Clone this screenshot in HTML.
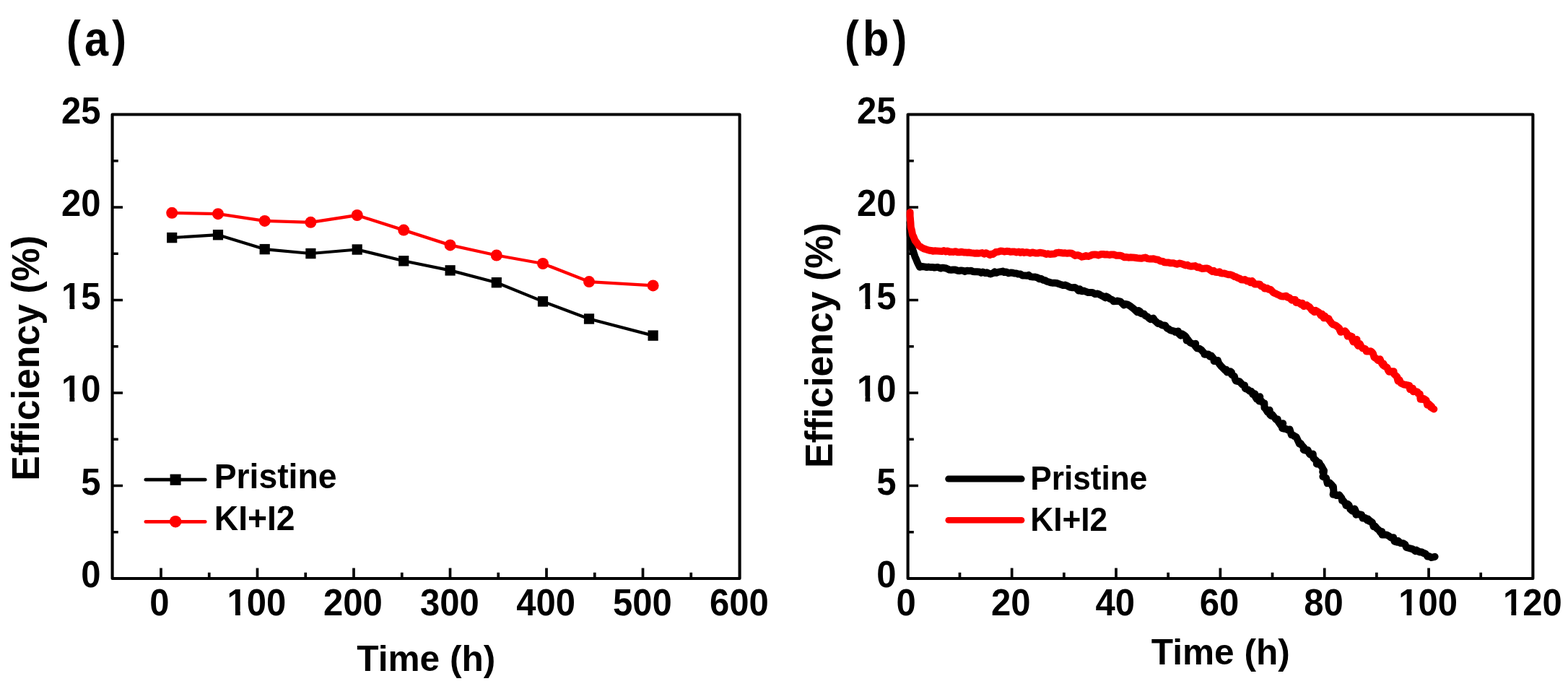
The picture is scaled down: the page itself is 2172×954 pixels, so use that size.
<!DOCTYPE html><html><head><meta charset="utf-8"><title>Efficiency vs time</title><style>html,body{margin:0;padding:0;background:#fff;width:2172px;height:954px;overflow:hidden}svg{display:block}text{font-family:"Liberation Sans", Arial, sans-serif;font-weight:bold;fill:#000}</style></head><body>
<svg width="2172" height="954" viewBox="0 0 2172 954">
<defs><clipPath id="c1" clipPathUnits="userSpaceOnUse"><path clip-rule="evenodd" d="M309.62 803.40H401.38V867.10H309.62ZM315.58 845.22H326.01V853.84H315.58ZM332.83 845.22H342.86V853.84H332.83Z"/></clipPath><clipPath id="c2" clipPathUnits="userSpaceOnUse"><path clip-rule="evenodd" d="M80.11 507.30H144.61V571.00H80.11ZM86.06 549.12H96.49V557.74H86.06ZM103.31 549.12H113.34V557.74H103.31Z"/></clipPath><clipPath id="c3" clipPathUnits="userSpaceOnUse"><path clip-rule="evenodd" d="M80.11 378.80H144.61V442.50H80.11ZM86.06 420.62H96.49V429.24H86.06ZM103.31 420.62H113.34V429.24H103.31Z"/></clipPath><clipPath id="c4" clipPathUnits="userSpaceOnUse"><path clip-rule="evenodd" d="M1932.17 803.40H2023.93V867.10H1932.17ZM1938.13 845.22H1948.56V853.84H1938.13ZM1955.38 845.22H1965.41V853.84H1955.38Z"/></clipPath><clipPath id="c5" clipPathUnits="userSpaceOnUse"><path clip-rule="evenodd" d="M2077.02 803.40H2168.78V867.10H2077.02ZM2082.98 845.22H2093.41V853.84H2082.98ZM2100.23 845.22H2110.26V853.84H2100.23Z"/></clipPath><clipPath id="c6" clipPathUnits="userSpaceOnUse"><path clip-rule="evenodd" d="M1182.11 507.30H1246.61V571.00H1182.11ZM1188.06 549.12H1198.49V557.74H1188.06ZM1205.31 549.12H1215.34V557.74H1205.31Z"/></clipPath><clipPath id="c7" clipPathUnits="userSpaceOnUse"><path clip-rule="evenodd" d="M1182.11 378.80H1246.61V442.50H1182.11ZM1188.06 420.62H1198.49V429.24H1188.06ZM1205.31 420.62H1215.34V429.24H1205.31Z"/></clipPath></defs>
<rect x="0" y="0" width="2172" height="954" fill="#fff"/>
<path d="M223.00 801.00V786.60M356.50 801.00V786.60M490.00 801.00V786.60M623.50 801.00V786.60M757.00 801.00V786.60M890.50 801.00V786.60M289.75 801.00V792.80M423.25 801.00V792.80M556.75 801.00V792.80M690.25 801.00V792.80M823.75 801.00V792.80M957.25 801.00V792.80M155.60 672.50H170.00M155.60 544.00H170.00M155.60 415.50H170.00M155.60 287.00H170.00M155.60 736.75H163.80M155.60 608.25H163.80M155.60 479.75H163.80M155.60 351.25H163.80M155.60 222.75H163.80" stroke="#000" stroke-width="3.70" fill="none"/>
<rect x="155.60" y="158.50" width="869.00" height="642.50" fill="none" stroke="#000" stroke-width="4.10" stroke-linejoin="round"/>
<g transform="translate(0 852.40) scale(1 1.070) translate(0 -852.40)"><text x="207.17" y="852.40" font-size="49">0</text></g>
<g transform="translate(0 852.40) scale(1 1.070) translate(0 -852.40)"><text x="314.62" y="852.40" font-size="49" clip-path="url(#c1)">100</text></g>
<g transform="translate(0 852.40) scale(1 1.070) translate(0 -852.40)"><text x="447.92" y="852.40" font-size="49">200</text></g>
<g transform="translate(0 852.40) scale(1 1.070) translate(0 -852.40)"><text x="582.02" y="852.40" font-size="49">300</text></g>
<g transform="translate(0 852.40) scale(1 1.070) translate(0 -852.40)"><text x="715.32" y="852.40" font-size="49">400</text></g>
<g transform="translate(0 852.40) scale(1 1.070) translate(0 -852.40)"><text x="849.02" y="852.40" font-size="49">500</text></g>
<g transform="translate(0 852.40) scale(1 1.070) translate(0 -852.40)"><text x="983.12" y="852.40" font-size="49">600</text></g>
<g transform="translate(0 813.30) scale(1 1.070) translate(0 -813.30)"><text x="112.36" y="813.30" font-size="49">0</text></g>
<g transform="translate(0 684.80) scale(1 1.070) translate(0 -684.80)"><text x="112.36" y="684.80" font-size="49">5</text></g>
<g transform="translate(0 556.30) scale(1 1.070) translate(0 -556.30)"><text x="85.11" y="556.30" font-size="49" clip-path="url(#c2)">10</text></g>
<g transform="translate(0 427.80) scale(1 1.070) translate(0 -427.80)"><text x="85.11" y="427.80" font-size="49" clip-path="url(#c3)">15</text></g>
<g transform="translate(0 299.30) scale(1 1.070) translate(0 -299.30)"><text x="85.11" y="299.30" font-size="49">20</text></g>
<g transform="translate(0 170.80) scale(1 1.070) translate(0 -170.80)"><text x="85.11" y="170.80" font-size="49">25</text></g>
<path d="M1401.65 801.00V786.60M1546.00 801.00V786.60M1690.35 801.00V786.60M1834.70 801.00V786.60M1979.05 801.00V786.60M1329.47 801.00V792.80M1473.83 801.00V792.80M1618.17 801.00V792.80M1762.53 801.00V792.80M1906.88 801.00V792.80M2051.22 801.00V792.80M1257.60 672.50H1272.00M1257.60 544.00H1272.00M1257.60 415.50H1272.00M1257.60 287.00H1272.00M1257.60 736.75H1265.80M1257.60 608.25H1265.80M1257.60 479.75H1265.80M1257.60 351.25H1265.80M1257.60 222.75H1265.80" stroke="#000" stroke-width="3.70" fill="none"/>
<rect x="1257.60" y="158.50" width="865.80" height="642.50" fill="none" stroke="#000" stroke-width="4.10" stroke-linejoin="round"/>
<g transform="translate(0 852.40) scale(1 1.070) translate(0 -852.40)"><text x="1241.47" y="852.40" font-size="49">0</text></g>
<g transform="translate(0 852.40) scale(1 1.070) translate(0 -852.40)"><text x="1373.10" y="852.40" font-size="49">20</text></g>
<g transform="translate(0 852.40) scale(1 1.070) translate(0 -852.40)"><text x="1517.45" y="852.40" font-size="49">40</text></g>
<g transform="translate(0 852.40) scale(1 1.070) translate(0 -852.40)"><text x="1661.80" y="852.40" font-size="49">60</text></g>
<g transform="translate(0 852.40) scale(1 1.070) translate(0 -852.40)"><text x="1806.15" y="852.40" font-size="49">80</text></g>
<g transform="translate(0 852.40) scale(1 1.070) translate(0 -852.40)"><text x="1937.17" y="852.40" font-size="49" clip-path="url(#c4)">100</text></g>
<g transform="translate(0 852.40) scale(1 1.070) translate(0 -852.40)"><text x="2082.02" y="852.40" font-size="49" clip-path="url(#c5)">120</text></g>
<g transform="translate(0 813.30) scale(1 1.070) translate(0 -813.30)"><text x="1214.36" y="813.30" font-size="49">0</text></g>
<g transform="translate(0 684.80) scale(1 1.070) translate(0 -684.80)"><text x="1214.36" y="684.80" font-size="49">5</text></g>
<g transform="translate(0 556.30) scale(1 1.070) translate(0 -556.30)"><text x="1187.11" y="556.30" font-size="49" clip-path="url(#c6)">10</text></g>
<g transform="translate(0 427.80) scale(1 1.070) translate(0 -427.80)"><text x="1187.11" y="427.80" font-size="49" clip-path="url(#c7)">15</text></g>
<g transform="translate(0 299.30) scale(1 1.070) translate(0 -299.30)"><text x="1187.11" y="299.30" font-size="49">20</text></g>
<g transform="translate(0 170.80) scale(1 1.070) translate(0 -170.80)"><text x="1187.11" y="170.80" font-size="49">25</text></g>
<polyline points="238.2,329.1 302.0,325.2 366.7,345.1 430.4,351.0 494.7,345.5 559.2,361.3 623.6,374.4 687.8,391.2 752.0,417.4 816.0,441.5 904.6,464.6" fill="none" stroke="#000" stroke-width="4.2" stroke-linejoin="round"/>
<rect x="231.1" y="321.9" width="14.2" height="14.4" fill="#000"/>
<rect x="294.9" y="318.0" width="14.2" height="14.4" fill="#000"/>
<rect x="359.6" y="337.9" width="14.2" height="14.4" fill="#000"/>
<rect x="423.3" y="343.8" width="14.2" height="14.4" fill="#000"/>
<rect x="487.6" y="338.3" width="14.2" height="14.4" fill="#000"/>
<rect x="552.1" y="354.1" width="14.2" height="14.4" fill="#000"/>
<rect x="616.5" y="367.2" width="14.2" height="14.4" fill="#000"/>
<rect x="680.7" y="384.0" width="14.2" height="14.4" fill="#000"/>
<rect x="744.9" y="410.2" width="14.2" height="14.4" fill="#000"/>
<rect x="808.9" y="434.3" width="14.2" height="14.4" fill="#000"/>
<rect x="897.5" y="457.4" width="14.2" height="14.4" fill="#000"/>
<polyline points="238.2,294.8 302.0,296.2 366.7,305.9 430.4,307.8 494.7,298.0 559.2,318.6 623.6,339.4 687.8,353.5 752.0,365.0 816.0,390.1 904.6,395.4" fill="none" stroke="#f00" stroke-width="4.3" stroke-linejoin="round"/>
<circle cx="238.2" cy="294.8" r="8.0" fill="#f00"/>
<circle cx="302.0" cy="296.2" r="8.0" fill="#f00"/>
<circle cx="366.7" cy="305.9" r="8.0" fill="#f00"/>
<circle cx="430.4" cy="307.8" r="8.0" fill="#f00"/>
<circle cx="494.7" cy="298.0" r="8.0" fill="#f00"/>
<circle cx="559.2" cy="318.6" r="8.0" fill="#f00"/>
<circle cx="623.6" cy="339.4" r="8.0" fill="#f00"/>
<circle cx="687.8" cy="353.5" r="8.0" fill="#f00"/>
<circle cx="752.0" cy="365.0" r="8.0" fill="#f00"/>
<circle cx="816.0" cy="390.1" r="8.0" fill="#f00"/>
<circle cx="904.6" cy="395.4" r="8.0" fill="#f00"/>
<path d="M201.9 664.2H284.2" stroke="#000" stroke-width="4.8" stroke-linecap="round" fill="none"/>
<rect x="235.6" y="656.6" width="15" height="15.2" fill="#000"/>
<path d="M201.9 722.4H284.2" stroke="#f00" stroke-width="4.8" stroke-linecap="round" fill="none"/>
<circle cx="243.1" cy="722.2" r="8.3" fill="#f00"/>
<text transform="translate(296.70 675.80) scale(1.000 1.030)" font-size="46.3">Pristine</text>
<text transform="translate(296.70 734.20) scale(1.000 1.030)" font-size="46.3">KI+I2</text>
<polyline points="1260.5,308.0 1260.7,311.0 1260.6,314.1 1260.5,317.0 1260.6,320.2 1260.6,323.0 1260.8,326.4 1261.1,329.0 1261.4,332.7 1262.0,335.6 1262.6,338.4 1263.5,341.6 1264.1,344.8 1264.9,347.6 1265.8,350.5 1266.7,353.0 1267.5,355.6 1268.7,358.2 1270.0,361.4 1271.1,364.0 1272.5,366.8 1274.0,369.8 1277.4,369.0 1280.6,369.4 1283.7,370.0 1286.2,369.6 1289.7,370.1 1292.5,370.1 1294.3,370.5 1297.6,370.1 1299.4,370.1 1303.2,371.5 1304.6,370.8 1307.2,370.8 1310.7,371.5 1312.9,372.5 1315.0,373.6 1317.6,373.8 1320.3,373.6 1323.2,373.5 1326.7,374.7 1328.7,375.0 1331.4,374.4 1334.8,375.0 1336.7,375.9 1339.6,374.7 1343.0,375.1 1345.2,374.8 1347.6,376.0 1350.5,376.3 1353.4,376.3 1356.8,376.6 1359.1,377.7 1361.4,376.6 1364.9,378.1 1366.9,377.2 1370.2,378.9 1372.2,379.4 1375.9,378.0 1377.9,376.3 1380.1,377.8 1383.1,376.6 1385.9,376.3 1389.1,375.6 1391.2,377.1 1393.8,376.4 1397.2,378.3 1400.0,377.5 1403.2,377.8 1404.6,378.4 1408.0,378.4 1410.3,379.6 1413.6,379.6 1416.3,381.6 1420.0,381.5 1422.5,381.7 1424.8,380.9 1427.5,383.1 1431.3,383.6 1433.2,383.4 1437.0,384.4 1439.6,386.3 1441.6,385.7 1445.4,387.9 1447.8,388.2 1450.4,389.9 1451.9,390.1 1455.3,391.3 1457.5,391.7 1461.1,391.8 1463.6,391.9 1466.5,393.1 1468.6,393.8 1473.0,395.1 1475.5,394.5 1478.5,395.8 1481.0,397.2 1483.1,397.9 1485.5,398.3 1488.9,398.0 1491.8,399.9 1494.0,402.4 1495.7,400.2 1498.4,403.3 1501.3,402.6 1505.1,404.1 1507.4,405.1 1510.2,405.0 1512.9,404.9 1516.9,407.2 1519.9,406.5 1522.3,407.2 1524.4,408.6 1528.8,410.8 1530.9,412.3 1532.4,410.5 1535.2,412.0 1537.2,413.6 1540.5,415.0 1542.3,417.2 1546.6,417.0 1547.8,416.6 1552.2,417.7 1554.9,420.4 1556.9,422.4 1558.7,421.0 1562.2,421.7 1565.5,423.8 1566.3,424.3 1569.9,427.2 1572.4,429.3 1575.3,432.1 1577.4,430.2 1579.3,431.5 1580.5,434.3 1584.8,434.5 1586.2,436.8 1589.6,438.7 1591.9,440.9 1593.8,442.2 1597.5,440.6 1600.0,444.4 1600.4,444.5 1604.2,448.0 1606.0,447.9 1609.8,450.4 1612.4,450.4 1614.1,450.7 1616.6,454.6 1618.8,455.2 1620.4,456.9 1624.5,458.1 1626.0,458.4 1628.0,459.8 1632.0,458.5 1631.7,460.9 1635.6,464.7 1637.7,462.4 1641.0,464.6 1643.1,466.7 1643.7,471.6 1645.2,469.8 1648.5,474.4 1651.6,475.8 1654.0,476.3 1656.1,475.7 1655.9,479.6 1658.2,482.3 1661.4,482.7 1664.2,484.5 1664.6,485.1 1668.4,489.5 1668.4,490.8 1673.0,490.6 1673.8,490.5 1675.8,493.7 1678.1,492.7 1681.3,496.9 1681.6,500.0 1684.2,499.9 1686.8,498.9 1688.3,502.9 1692.0,507.8 1691.6,507.0 1693.1,508.6 1697.7,513.3 1698.6,511.7 1699.7,515.4 1704.4,514.3 1706.0,515.5 1706.0,518.7 1709.9,521.1 1710.8,524.8 1712.0,527.4 1714.1,527.9 1716.7,527.9 1719.8,531.3 1721.3,533.0 1724.0,533.4 1724.9,538.1 1728.6,539.4 1731.5,541.8 1733.3,541.7 1735.4,546.1 1738.4,545.3 1739.1,549.8 1741.0,552.7 1745.3,549.3 1744.3,555.5 1746.0,553.7 1749.9,558.2 1751.4,558.5 1751.5,564.6 1751.6,563.7 1755.9,570.7 1758.7,567.8 1758.9,574.1 1761.0,575.7 1761.9,573.8 1763.6,575.6 1767.5,580.9 1769.7,580.6 1770.4,583.3 1774.8,589.7 1777.2,586.2 1776.2,593.1 1779.7,593.8 1781.3,593.8 1784.1,595.4 1786.5,594.4 1788.8,602.0 1788.6,601.5 1792.6,603.3 1792.4,603.8 1795.5,604.9 1798.9,612.2 1800.0,614.7 1801.5,613.8 1803.3,616.5 1806.7,620.4 1805.7,622.9 1809.5,623.9 1811.6,623.3 1813.8,628.3 1814.9,629.4 1817.0,628.9 1818.7,628.5 1819.1,633.0 1819.5,634.3 1823.7,638.2 1823.9,642.4 1827.4,640.5 1829.1,644.2 1830.3,645.1 1832.8,649.7 1832.2,653.4 1834.0,651.5 1833.1,659.1 1832.4,659.9 1833.7,660.6 1837.0,661.9 1838.7,669.1 1841.9,668.6 1844.9,671.6 1846.3,674.8 1846.9,673.7 1847.4,680.9 1846.6,684.7 1849.2,683.8 1851.3,686.1 1855.1,685.3 1858.6,689.8 1859.0,693.0 1860.5,693.1 1863.7,697.0 1864.5,699.9 1866.6,697.7 1868.6,699.5 1870.4,705.1 1873.2,707.6 1876.5,704.6 1879.4,711.2 1878.4,712.7 1881.7,712.0 1886.0,712.6 1887.6,717.5 1891.0,717.0 1894.0,720.6 1894.8,718.4 1897.0,722.0 1897.5,720.9 1900.9,723.5 1902.7,729.2 1904.8,728.6 1907.4,731.9 1910.1,734.1 1913.0,738.2 1914.2,735.9 1914.7,740.4 1918.9,740.5 1920.8,740.4 1924.4,742.6 1927.0,744.6 1930.2,744.3 1931.6,749.6 1936.2,750.8 1936.7,748.8 1940.1,752.1 1943.8,752.3 1946.3,753.8 1948.1,758.0 1951.9,759.0 1954.3,759.6 1956.8,760.3 1960.7,763.1 1962.1,761.7 1966.5,764.5 1969.2,764.2 1971.2,765.5 1974.9,767.0 1977.3,770.5 1979.4,770.1 1982.9,772.0 1987.6,770.8" fill="none" stroke="#000" stroke-width="10" stroke-linejoin="round" stroke-linecap="round"/>
<polyline points="1260.6,293.9 1260.6,297.0 1260.6,299.2 1260.9,302.2 1261.1,304.9 1261.4,308.1 1261.6,311.8 1261.8,314.9 1262.8,318.4 1263.4,321.5 1264.1,325.1 1265.3,327.4 1266.5,330.4 1267.7,333.3 1269.3,335.2 1270.9,337.4 1272.4,339.7 1274.8,341.5 1276.7,342.7 1279.0,344.1 1281.6,344.9 1284.2,345.8 1287.4,346.7 1290.1,347.0 1291.9,347.7 1295.3,347.2 1297.7,347.6 1301.4,347.7 1305.0,347.9 1307.5,347.1 1310.0,348.4 1312.2,347.4 1315.6,348.9 1317.7,348.6 1320.5,348.9 1323.7,348.2 1326.0,349.2 1329.0,349.3 1331.6,348.7 1334.8,349.4 1336.9,349.4 1339.8,349.8 1342.6,349.5 1345.1,350.1 1347.8,350.4 1350.4,350.7 1353.2,350.5 1355.3,350.7 1358.2,350.4 1360.5,350.1 1363.4,351.7 1365.6,350.2 1368.1,351.3 1371.0,353.0 1373.0,351.7 1375.5,351.9 1379.4,349.0 1380.1,348.9 1383.6,348.6 1385.8,347.5 1388.7,347.7 1391.5,348.5 1394.5,347.8 1396.9,347.9 1399.6,348.7 1402.4,348.5 1405.7,348.5 1407.8,349.4 1411.2,348.6 1413.5,349.8 1416.2,348.7 1418.5,350.0 1422.0,349.2 1424.4,349.6 1426.9,350.5 1430.0,349.4 1432.1,349.9 1435.1,350.6 1438.2,350.4 1440.3,349.8 1443.3,350.2 1446.7,350.9 1449.2,352.0 1451.6,351.3 1454.3,352.0 1457.1,351.8 1460.9,351.6 1463.0,350.2 1466.6,349.6 1469.3,350.0 1472.8,350.5 1475.6,350.3 1478.4,350.8 1481.5,350.4 1484.5,350.7 1487.0,352.3 1489.3,353.9 1492.5,353.2 1495.1,353.9 1498.7,355.7 1501.5,355.2 1504.1,354.1 1507.5,354.9 1510.9,353.8 1512.9,352.8 1516.5,352.4 1519.3,352.7 1521.7,353.4 1525.4,352.0 1528.1,352.0 1530.8,352.5 1533.7,352.3 1536.7,353.0 1539.5,352.4 1543.0,352.6 1546.3,353.7 1548.9,353.8 1552.0,353.8 1553.9,354.3 1557.6,356.3 1559.9,356.0 1563.6,356.7 1565.7,356.3 1568.7,356.4 1571.9,356.8 1575.3,357.3 1577.9,357.6 1581.0,357.8 1583.7,357.2 1586.6,356.5 1589.5,358.1 1593.1,358.6 1595.7,358.5 1597.9,358.3 1601.1,359.3 1603.6,359.4 1607.3,361.5 1610.8,361.9 1612.6,363.2 1616.6,363.4 1618.9,363.6 1621.6,364.3 1625.5,364.2 1628.1,365.1 1630.4,365.7 1634.0,364.6 1636.4,365.1 1640.1,366.5 1642.3,367.4 1644.9,366.8 1647.2,368.4 1649.8,368.7 1652.9,368.4 1655.5,368.1 1658.5,370.2 1661.0,369.8 1662.4,371.0 1665.3,371.9 1667.8,371.8 1671.4,371.4 1673.4,371.8 1675.0,372.9 1679.3,375.9 1681.3,374.8 1683.8,376.8 1685.9,377.1 1689.2,376.2 1690.7,378.1 1693.2,378.5 1696.5,378.6 1699.0,379.5 1701.6,380.3 1704.3,380.2 1706.9,381.1 1710.0,383.0 1711.7,383.2 1714.6,384.8 1717.4,385.7 1719.4,387.2 1722.6,387.6 1724.4,387.1 1727.3,389.3 1729.8,388.9 1732.1,391.1 1734.5,389.1 1737.9,393.4 1740.5,393.4 1743.1,393.5 1745.3,393.8 1746.8,396.3 1750.2,397.3 1751.7,399.6 1755.4,399.0 1757.4,400.8 1759.8,400.7 1763.9,405.2 1765.9,406.0 1768.0,406.9 1770.1,407.9 1773.4,409.6 1774.9,410.3 1777.6,410.5 1781.9,409.7 1783.0,411.7 1785.7,411.9 1789.5,415.6 1791.0,415.0 1794.0,415.0 1795.4,418.9 1798.5,418.6 1802.6,421.6 1803.9,419.7 1806.0,424.1 1810.0,422.4 1812.4,424.4 1813.9,425.0 1817.5,429.9 1818.2,429.7 1820.7,432.1 1822.7,429.9 1826.9,432.5 1829.7,436.8 1831.4,434.8 1833.7,440.3 1835.2,437.6 1836.8,440.3 1840.6,441.1 1841.2,443.2 1845.1,448.1 1846.5,449.2 1850.5,450.6 1850.7,450.9 1855.3,454.7 1855.5,456.2 1857.1,459.8 1860.5,459.0 1863.1,458.2 1865.6,461.2 1866.7,465.6 1868.3,464.4 1872.7,465.9 1873.0,469.5 1874.6,473.3 1879.5,469.9 1879.6,475.9 1881.3,478.8 1883.7,476.0 1885.9,480.4 1887.6,482.2 1891.2,483.1 1892.7,486.4 1895.6,486.4 1898.7,486.3 1900.7,487.6 1902.1,489.8 1903.5,494.7 1906.7,496.6 1906.7,496.5 1908.6,498.8 1911.6,497.3 1914.0,503.1 1915.9,505.8 1916.4,503.3 1917.9,507.1 1921.3,508.5 1922.7,512.3 1924.0,514.7 1927.8,514.3 1930.6,514.2 1930.1,516.3 1931.4,518.3 1935.3,521.7 1935.6,524.1 1936.5,527.6 1938.5,525.9 1940.5,530.5 1944.8,532.6 1944.8,532.3 1948.0,533.0 1952.2,533.8 1953.1,539.1 1956.9,537.6 1957.6,542.3 1958.7,541.4 1963.6,542.6 1964.4,545.0 1966.8,545.6 1967.6,552.7 1972.4,553.1 1972.3,552.0 1975.6,554.1 1977.2,560.8 1978.8,559.0 1983.2,562.9 1981.9,563.8 1986.3,566.5" fill="none" stroke="#f00" stroke-width="10" stroke-linejoin="round" stroke-linecap="round"/>
<path d="M1313.7 663.1H1415.1" stroke="#000" stroke-width="9" stroke-linecap="round" fill="none"/>
<path d="M1313.7 720.2H1415.1" stroke="#f00" stroke-width="8.5" stroke-linecap="round" fill="none"/>
<text transform="translate(1427.24 677.80) scale(1.000 1.030)" font-size="44.2">Pristine</text>
<text transform="translate(1427.24 735.20) scale(1.000 1.030)" font-size="44.2">KI+I2</text>
<text transform="translate(494.35 929.10) scale(1.000 1.000)" font-size="49.6">Time (h)</text>
<text transform="translate(1594.85 920.20) scale(1.000 1.000)" font-size="49.6">Time (h)</text>
<text transform="translate(53.80 665.67) rotate(-90) scale(1 1.035)" font-size="51.8">Efficiency (%)</text>
<text transform="translate(1152.80 648.07) rotate(-90) scale(1 1.035)" font-size="51.8">Efficiency (%)</text>
<text transform="translate(92.12 77.30) scale(0.860 1)" font-size="69.2" letter-spacing="6.0">(a)</text>
<text transform="translate(1170.02 77.30) scale(0.860 1)" font-size="69.2" letter-spacing="6.0">(b)</text>
</svg></body></html>
